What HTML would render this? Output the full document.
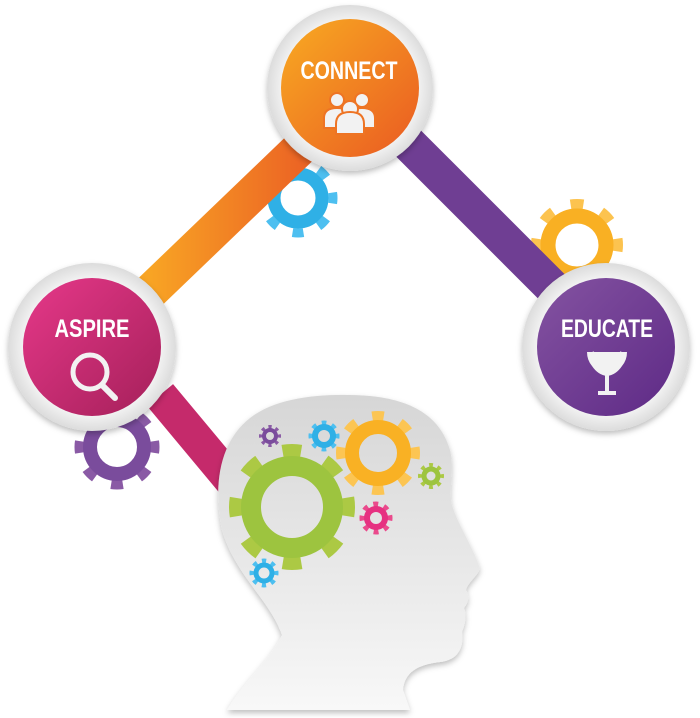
<!DOCTYPE html>
<html><head><meta charset="utf-8"><style>
html,body{margin:0;padding:0;background:#fff;width:700px;height:718px;overflow:hidden}
svg{display:block}
.t{font-family:"Liberation Sans",sans-serif;font-weight:bold;fill:#fff}
</style></head><body>
<svg width="700" height="718" viewBox="0 0 700 718" xmlns="http://www.w3.org/2000/svg">
<defs>
<linearGradient id="og" x1="0" y1="0" x2="1" y2="1"><stop offset="0" stop-color="#f8ab22"/><stop offset="1" stop-color="#ea5a22"/></linearGradient>
<linearGradient id="ob" x1="0" y1="0" x2="1" y2="0"><stop offset="0" stop-color="#f8a424"/><stop offset="1" stop-color="#ec6524"/></linearGradient>
<linearGradient id="pg" x1="0" y1="0" x2="1" y2="1"><stop offset="0" stop-color="#e63889"/><stop offset="1" stop-color="#a5205a"/></linearGradient>
<linearGradient id="vg" x1="0" y1="0" x2="1" y2="1"><stop offset="0" stop-color="#8453a1"/><stop offset="1" stop-color="#5e2a86"/></linearGradient>
<linearGradient id="hg" x1="0" y1="0" x2="0" y2="1"><stop offset="0" stop-color="#d6d6d6"/><stop offset="1" stop-color="#f8f8f8"/></linearGradient>
<radialGradient id="rg" cx="0.5" cy="0.5" r="0.5"><stop offset="0.8" stop-color="#f4f4f4"/><stop offset="1" stop-color="#dcdcdc"/></radialGradient>
<filter id="sh" x="-20%" y="-20%" width="140%" height="140%"><feDropShadow dx="0" dy="3" stdDeviation="3" flood-color="#000" flood-opacity="0.25"/></filter>
</defs>

<!-- background gears -->
<g>
<circle cx="298" cy="198" r="35" fill="none" stroke="#4dbff0" stroke-width="9" pathLength="8" stroke-dasharray="0.4 0.6" stroke-dashoffset="0.2"/>
<circle cx="298" cy="198" r="24" fill="none" stroke="#2fb0e6" stroke-width="13"/>
</g>
<g>
<circle cx="577" cy="245" r="41" fill="none" stroke="#fcc34f" stroke-width="10" pathLength="8" stroke-dasharray="0.4 0.6" stroke-dashoffset="0.2"/>
<circle cx="577" cy="245" r="29" fill="none" stroke="#f9b023" stroke-width="15"/>
</g>
<g>
<circle cx="117" cy="447" r="38" fill="none" stroke="#8a5aa5" stroke-width="9" pathLength="8" stroke-dasharray="0.4 0.6" stroke-dashoffset="0.2"/>
<circle cx="117" cy="447" r="27" fill="none" stroke="#7a4c9c" stroke-width="14"/>
</g>

<!-- bars -->
<line x1="150" y1="292" x2="300" y2="148" stroke="url(#ob)" stroke-width="36"/>
<line x1="405" y1="140" x2="555" y2="290" stroke="#6f3e93" stroke-width="36"/>
<line x1="160" y1="395" x2="235" y2="485" stroke="#c52a6b" stroke-width="34"/>

<!-- head -->
<path filter="url(#sh)" fill="url(#hg)" d="M227 710 C245 680 270 660 282 635 C270 600 235 575 222 530 C212 480 222 440 250 418 C280 395 330 393 370 396 C410 400 440 415 450 450 C455 470 448 490 452 505 C458 525 472 545 480 568 C478 576 468 582 466 590 C470 597 468 603 464 608 C467 616 465 624 462 632 C464 648 458 660 440 662 C425 664 405 668 403 690 L410 710 Z"/>

<!-- head gears -->
<circle cx="292" cy="507" r="56" fill="none" stroke="#acc944" stroke-width="14" pathLength="8" stroke-dasharray="0.42 0.58" stroke-dashoffset="0.21"/>
<circle cx="292" cy="507" r="41" fill="none" stroke="#9dc43f" stroke-width="20"/>
<circle cx="378" cy="453" r="37" fill="none" stroke="#fcc553" stroke-width="10" pathLength="8" stroke-dasharray="0.4 0.6" stroke-dashoffset="0.2"/>
<circle cx="378" cy="453" r="26" fill="none" stroke="#f9b124" stroke-width="14"/>
<circle cx="324" cy="436" r="13" fill="none" stroke="#4dbff0" stroke-width="5" pathLength="8" stroke-dasharray="0.45 0.55" stroke-dashoffset="0.22"/>
<circle cx="324" cy="436" r="9" fill="none" stroke="#2fb0e6" stroke-width="6"/>
<circle cx="270" cy="436" r="9" fill="none" stroke="#8a5aa5" stroke-width="4" pathLength="8" stroke-dasharray="0.45 0.55" stroke-dashoffset="0.22"/>
<circle cx="270" cy="436" r="6" fill="none" stroke="#7a4c9c" stroke-width="4"/>
<circle cx="431" cy="476" r="11" fill="none" stroke="#acc944" stroke-width="4" pathLength="8" stroke-dasharray="0.45 0.55" stroke-dashoffset="0.22"/>
<circle cx="431" cy="476" r="7" fill="none" stroke="#9dc43f" stroke-width="5"/>
<circle cx="376" cy="518" r="14" fill="none" stroke="#ea4a8c" stroke-width="5" pathLength="8" stroke-dasharray="0.45 0.55" stroke-dashoffset="0.22"/>
<circle cx="376" cy="518" r="9" fill="none" stroke="#e63181" stroke-width="6"/>
<circle cx="264" cy="573" r="12" fill="none" stroke="#4dbff0" stroke-width="5" pathLength="8" stroke-dasharray="0.45 0.55" stroke-dashoffset="0.22"/>
<circle cx="264" cy="573" r="8" fill="none" stroke="#2fb0e6" stroke-width="5"/>

<!-- nodes -->
<circle cx="350" cy="88" r="83" fill="url(#rg)" filter="url(#sh)"/>
<circle cx="350" cy="88" r="69" fill="url(#og)"/>
<text class="t" x="349" y="79" font-size="25" text-anchor="middle" textLength="97" lengthAdjust="spacingAndGlyphs">CONNECT</text>
<g fill="#f2f2f2" stroke="#ee7424" stroke-width="2">
<circle cx="337" cy="100" r="7"/><path d="M324 128 v-10 q0-10 13-10 q13 0 13 10 v10z"/>
<circle cx="362" cy="100" r="7"/><path d="M349 128 v-10 q0-10 13-10 q13 0 13 10 v10z"/>
<circle cx="350" cy="109" r="8"/><path d="M336 134 v-10 q0-12 14-12 q14 0 14 12 v10z"/>
</g>

<circle cx="92" cy="347" r="84" fill="url(#rg)" filter="url(#sh)"/>
<circle cx="92" cy="347" r="69" fill="url(#pg)"/>
<text class="t" x="92" y="337" font-size="25" text-anchor="middle" textLength="75" lengthAdjust="spacingAndGlyphs">ASPIRE</text>
<circle cx="90" cy="372" r="17" fill="none" stroke="#f2f2f2" stroke-width="5"/>
<line x1="102" y1="385" x2="115" y2="398" stroke="#f2f2f2" stroke-width="6" stroke-linecap="round"/>

<circle cx="606" cy="347" r="84" fill="url(#rg)" filter="url(#sh)"/>
<circle cx="606" cy="347" r="69" fill="url(#vg)"/>
<text class="t" x="607" y="337" font-size="25" text-anchor="middle" textLength="92" lengthAdjust="spacingAndGlyphs">EDUCATE</text>
<g fill="#f2f2f2">
<path d="M587 352 h40 q0 8 -5 14 q-6 9 -15 10 q-9 -1 -15 -10 q-5 -6 -5 -14z"/>
<rect x="590" y="352" width="4" height="14" transform="rotate(-20 592 352)"/>
<rect x="620" y="352" width="4" height="14" transform="rotate(20 622 352)"/>
<rect x="605" y="374" width="4" height="19"/>
<rect x="598" y="391" width="18" height="4"/>
</g>
</svg>
</body></html>
